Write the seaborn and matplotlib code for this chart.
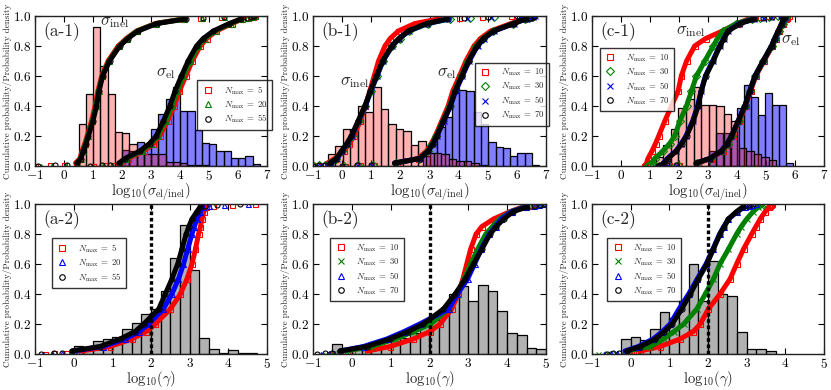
import numpy as np
import pandas as pd
import matplotlib
matplotlib.use("Agg")
import matplotlib.pyplot as plt
from matplotlib.lines import Line2D
import seaborn as sns

# ---------------- data ----------------
# cumulative probability levels at which curve x-positions were read
Q = [0.0, 0.005, 0.01, 0.02, 0.05, 0.1, 0.15, 0.2, 0.3, 0.4, 0.5, 0.6, 0.7,
     0.8, 0.85, 0.9, 0.95, 0.98, 0.99, 0.995, 1.0]

# (a-1) log10(sigma) cumulative curves
a1_inel_n5 = [-1.0, -0.5, 0.0, 0.4, 0.55, 0.62, 0.72, 0.8, 0.95, 1.07, 1.17, 1.3, 1.52, 1.87, 2.15, 2.5, 3.15, 4.1, 4.7, 5.4, 6.4]
a1_inel_n20 = [-0.8, -0.4, 0.05, 0.45, 0.57, 0.65, 0.74, 0.82, 0.98, 1.1, 1.19, 1.32, 1.55, 1.9, 2.18, 2.52, 3.18, 4.15, 4.75, 5.5, 6.6]
a1_inel_n55 = [-0.9, -0.3, 0.1, 0.45, 0.58, 0.67, 0.76, 0.84, 1.0, 1.12, 1.21, 1.33, 1.57, 1.92, 2.2, 2.55, 3.2, 4.2, 4.8, 5.5, 6.5]
a1_el_n5 = [1.0, 1.4, 1.7, 2.0, 2.2, 2.75, 3.08, 3.3, 3.57, 3.8, 3.98, 4.2, 4.42, 4.7, 4.92, 5.25, 5.8, 6.15, 6.35, 6.5, 6.6]
a1_el_n20 = [0.95, 1.35, 1.65, 1.95, 2.15, 2.68, 3.0, 3.23, 3.5, 3.72, 3.9, 4.12, 4.35, 4.63, 4.86, 5.2, 5.75, 6.12, 6.32, 6.48, 6.58]
a1_el_n55 = [0.9, 1.3, 1.6, 1.9, 2.1, 2.62, 2.95, 3.18, 3.43, 3.65, 3.83, 4.05, 4.28, 4.57, 4.8, 5.15, 5.7, 6.1, 6.3, 6.45, 6.55]

# (b-1)
b1_inel_n10 = [-1.0, -0.85, -0.7, -0.5, -0.25, 0.05, 0.25, 0.4, 0.62, 0.8, 0.95, 1.1, 1.25, 1.47, 1.65, 1.93, 2.5, 3.3, 4.0, 4.8, 5.8]
b1_inel_n30 = [-0.95, -0.8, -0.6, -0.4, -0.2, 0.0, 0.18, 0.34, 0.57, 0.8, 0.99, 1.2, 1.4, 1.72, 1.97, 2.3, 2.95, 3.7, 4.4, 5.2, 6.2]
b1_inel_n50 = [-0.9, -0.75, -0.55, -0.38, -0.18, 0.0, 0.17, 0.33, 0.56, 0.79, 0.98, 1.19, 1.4, 1.71, 1.96, 2.28, 2.92, 3.65, 4.3, 5.1, 6.1]
b1_inel_n70 = [-1.0, -0.8, -0.6, -0.4, -0.2, -0.02, 0.16, 0.32, 0.55, 0.78, 0.97, 1.18, 1.39, 1.7, 1.95, 2.27, 2.9, 3.6, 4.2, 5.0, 6.0]
b1_el_n10 = [0.1, 0.6, 1.1, 1.9, 2.6, 2.9, 3.06, 3.2, 3.42, 3.64, 3.8, 4.03, 4.25, 4.53, 4.75, 5.1, 5.8, 6.25, 6.4, 6.5, 6.55]
b1_el_n30 = [0.05, 0.55, 1.05, 1.85, 2.65, 2.94, 3.1, 3.23, 3.46, 3.69, 3.86, 4.09, 4.32, 4.61, 4.83, 5.18, 5.87, 6.28, 6.43, 6.53, 6.6]
b1_el_n50 = [0.0, 0.5, 1.0, 1.8, 2.67, 2.96, 3.12, 3.25, 3.49, 3.72, 3.9, 4.13, 4.36, 4.65, 4.87, 5.22, 5.9, 6.3, 6.45, 6.55, 6.62]
b1_el_n70 = [0.0, 0.5, 1.0, 1.8, 2.67, 2.96, 3.12, 3.25, 3.48, 3.71, 3.88, 4.11, 4.34, 4.63, 4.85, 5.2, 5.89, 6.3, 6.45, 6.55, 6.6]

# (c-1)
c1_inel_n10 = [0.8, 0.82, 0.84, 0.88, 0.93, 1.07, 1.19, 1.3, 1.51, 1.74, 1.97, 2.08, 2.26, 2.54, 2.92, 3.5, 4.0, 4.4, 4.6, 4.8, 5.0]
c1_inel_n30 = [0.9, 0.95, 1.0, 1.08, 1.16, 1.45, 1.68, 1.85, 2.03, 2.26, 2.43, 2.6, 2.89, 3.18, 3.33, 3.52, 3.98, 4.5, 4.8, 5.1, 5.4]
c1_inel_n50 = [1.25, 1.3, 1.36, 1.46, 1.6, 1.89, 2.08, 2.24, 2.47, 2.64, 2.76, 2.91, 3.16, 3.4, 3.54, 3.69, 4.08, 4.58, 4.88, 5.18, 5.48]
c1_inel_n70 = [1.28, 1.33, 1.38, 1.48, 1.62, 1.91, 2.1, 2.26, 2.49, 2.66, 2.77, 2.92, 3.18, 3.41, 3.55, 3.7, 4.1, 4.6, 4.9, 5.2, 5.5]
c1_el_n10 = [1.35, 1.65, 2.0, 2.65, 3.1, 3.5, 3.7, 3.85, 4.08, 4.3, 4.47, 4.65, 4.93, 5.22, 5.34, 5.46, 5.6, 5.68, 5.71, 5.74, 5.78]
c1_el_n30 = [1.3, 1.62, 1.95, 2.62, 3.08, 3.48, 3.68, 3.83, 4.06, 4.28, 4.45, 4.63, 4.91, 5.2, 5.32, 5.44, 5.57, 5.64, 5.67, 5.7, 5.72]
c1_el_n50 = [1.28, 1.58, 1.9, 2.6, 3.06, 3.46, 3.66, 3.81, 4.04, 4.27, 4.44, 4.62, 4.9, 5.19, 5.3, 5.42, 5.54, 5.6, 5.62, 5.64, 5.66]
c1_el_n70 = [1.3, 1.6, 1.9, 2.6, 3.06, 3.46, 3.66, 3.81, 4.04, 4.27, 4.44, 4.62, 4.9, 5.19, 5.3, 5.42, 5.54, 5.6, 5.62, 5.64, 5.66]

# (a-2) log10(gamma)
a2_n5 = [-0.75, -0.5, -0.2, 0.2, 0.94, 1.5, 1.88, 2.11, 2.5, 2.76, 2.93, 3.06, 3.15, 3.23, 3.28, 3.32, 3.37, 3.42, 3.6, 4.1, 4.7]
a2_n20 = [-0.8, -0.55, -0.3, 0.0, 0.75, 1.33, 1.7, 1.94, 2.32, 2.54, 2.71, 2.84, 2.95, 3.06, 3.12, 3.19, 3.27, 3.34, 3.5, 3.9, 4.5]
a2_n55 = [-0.85, -0.5, -0.3, -0.05, 0.68, 1.2, 1.59, 1.81, 2.2, 2.37, 2.54, 2.69, 2.8, 2.91, 2.98, 3.06, 3.19, 3.27, 3.4, 3.7, 4.3]
# (b-2)
b2_n10 = [-0.6, -0.3, 0.0, 0.4, 0.98, 1.58, 2.01, 2.27, 2.57, 2.74, 2.86, 2.96, 3.06, 3.2, 3.35, 3.65, 4.08, 4.4, 4.55, 4.62, 4.68]
b2_n30 = [-0.7, -0.5, -0.35, -0.15, 0.5, 1.12, 1.6, 2.03, 2.49, 2.72, 2.89, 3.06, 3.24, 3.45, 3.62, 3.8, 4.1, 4.45, 4.65, 4.8, 4.9]
b2_n50 = [-0.8, -0.6, -0.45, -0.3, 0.3, 0.9, 1.35, 1.75, 2.49, 2.72, 2.98, 3.16, 3.33, 3.54, 3.7, 3.85, 4.12, 4.48, 4.68, 4.82, 4.92]
b2_n70 = [-0.9, -0.7, -0.5, -0.31, 0.38, 0.98, 1.45, 1.84, 2.36, 2.66, 2.92, 3.13, 3.35, 3.56, 3.72, 3.91, 4.16, 4.51, 4.7, 4.85, 4.94]
# (c-2)
c2_n10 = [-0.05, 0.05, 0.15, 0.25, 0.76, 1.28, 1.62, 1.8, 2.01, 2.31, 2.57, 2.74, 2.92, 3.13, 3.24, 3.35, 3.48, 3.57, 3.6, 3.62, 3.65]
c2_n30 = [-0.85, -0.6, -0.4, -0.1, 0.51, 0.85, 1.12, 1.37, 1.71, 1.93, 2.14, 2.31, 2.53, 2.74, 2.86, 3.0, 3.17, 3.3, 3.36, 3.4, 3.43]
c2_n50 = [-0.7, -0.5, -0.35, -0.15, 0.2, 0.58, 0.82, 1.02, 1.25, 1.5, 1.72, 1.95, 2.13, 2.3, 2.41, 2.53, 2.76, 2.95, 3.05, 3.15, 3.25]
c2_n70 = [-0.6, -0.45, -0.3, -0.1, 0.25, 0.64, 0.87, 1.07, 1.32, 1.54, 1.75, 1.97, 2.14, 2.31, 2.42, 2.53, 2.74, 2.9, 3.0, 3.08, 3.17]

# histograms: first bin edge, bin width, bar heights (probability density)
a1_inel_start, a1_inel_w = 0.5, 0.25
a1_inel_hist = [0.28, 0.48, 0.93, 0.67, 0.48, 0.23, 0.22, 0.15, 0.10, 0.08, 0.08, 0.08, 0.03, 0.03, 0.02, 0.01, 0.01, 0.005]
a1_el_start, a1_el_w = 2.0, 0.25
a1_el_hist = [0.11, 0.10, 0.16, 0.15, 0.25, 0.35, 0.45, 0.53, 0.365, 0.37, 0.24, 0.155, 0.15, 0.10, 0.10, 0.053, 0.053, 0.07, 0.015]

b1_inel_start, b1_inel_w = -0.5, 0.26
b1_inel_hist = [0.08, 0.135, 0.245, 0.25, 0.40, 0.36, 0.53, 0.38, 0.28, 0.245, 0.235, 0.14, 0.17, 0.09, 0.09, 0.08, 0.05, 0.035, 0.035, 0.02, 0.01]
b1_el_start, b1_el_w = 2.77, 0.25
b1_el_hist = [0.07, 0.17, 0.26, 0.33, 0.52, 0.51, 0.50, 0.36, 0.28, 0.16, 0.13, 0.12, 0.07, 0.09, 0.09, 0.01]

c1_inel_start, c1_inel_w = 1.2, 0.26
c1_inel_hist = [0.06, 0.14, 0.25, 0.385, 0.45, 0.53, 0.41, 0.41, 0.40, 0.35, 0.30, 0.12, 0.10, 0.08, 0.06, 0.04]
c1_el_start, c1_el_w = 3.04, 0.24
c1_el_hist = [0.10, 0.22, 0.22, 0.21, 0.39, 0.54, 0.46, 0.34, 0.49, 0.41, 0.41, 0.02]

a2_start, a2_w = 0.0, 0.25
a2_hist = [0.055, 0.04, 0.09, 0.10, 0.115, 0.17, 0.21, 0.27, 0.30, 0.42, 0.64, 0.86, 0.56, 0.105, 0.033, 0.01, 0.025, 0.01, 0.01]
b2_start, b2_w = -0.5, 0.25
b2_hist = [0.067, 0.02, 0.03, 0.03, 0.04, 0.05, 0.11, 0.105, 0.14, 0.19, 0.23, 0.30, 0.40, 0.455, 0.355, 0.46, 0.42, 0.29, 0.14, 0.125, 0.04, 0.035]
c2_start, c2_w = -0.25, 0.25
c2_hist = [0.10, 0.115, 0.095, 0.165, 0.28, 0.24, 0.36, 0.60, 0.355, 0.62, 0.40, 0.39, 0.15, 0.033, 0.033, 0.02]

x_ticks_top = [-1, 0, 1, 2, 3, 4, 5, 6, 7]
x_ticks_bot = [-1, 0, 1, 2, 3, 4, 5]
y_ticks = [0.0, 0.2, 0.4, 0.6, 0.8, 1.0]
gamma_cut = 2

# ---------------- style ----------------
sns.set_style("ticks")
plt.rcParams.update({
    "font.family": ["cmr10", "DejaVu Serif"],
    "mathtext.fontset": "cm",
    "axes.unicode_minus": False,
    "axes.formatter.use_mathtext": True,
    "xtick.direction": "in", "ytick.direction": "in",
    "xtick.top": True, "ytick.right": True,
    "xtick.major.size": 4, "ytick.major.size": 4,
    "xtick.major.width": 0.8, "ytick.major.width": 0.8,
    "xtick.color": "k", "ytick.color": "k",
    "axes.edgecolor": "#222222", "axes.linewidth": 1.0,
    "axes.facecolor": "white", "figure.facecolor": "white",
})

RED, GREEN, BLUE, BLACK = "#ff0000", "#008000", "#0000ff", "#000000"

fig = plt.figure(figsize=(8.31, 3.90), dpi=100)
lefts = [35 / 831, 313 / 831, 592 / 831]
widths = [232 / 831, 233 / 831, 232 / 831]
bottoms = [1 - 166 / 390, 1 - 354 / 390]
h = 150 / 390
axes = [[fig.add_axes([lefts[c], bottoms[r], widths[c], h]) for c in range(3)] for r in range(2)]


def hist(ax, start, w, heights, color, alpha):
    heights = np.asarray(heights, float)
    n = len(heights)
    centers = start + w * (np.arange(n) + 0.5)
    df = pd.DataFrame({"x": centers, "w": heights})
    sns.histplot(data=df, x="x", weights="w", binwidth=w, binrange=(start, start + n * w),
                 ax=ax, color=color, alpha=alpha, edgecolor="k", linewidth=0.9,
                 stat="count", zorder=1)


def cdf(ax, xs, color, marker, z):
    xs = np.asarray(xs, float)
    qs = np.asarray(Q, float)
    core = (qs >= 0.02) & (qs <= 0.98)
    df = pd.DataFrame({"x": xs[core], "q": qs[core]})
    sns.lineplot(data=df, x="x", y="q", ax=ax, color=color, lw=3.6, sort=False,
                 estimator=None, zorder=z)
    ax.plot(xs, qs, ls="none", marker=marker, mfc="none", mec=color, ms=3.6,
            mew=0.8, zorder=z + 0.1)


def legend(ax, entries, anchor):
    handles = [Line2D([], [], ls="none", marker=m, mfc="none", mec=c, ms=4, mew=0.8)
               for c, m, _ in entries]
    labels = [r"$N_{\rm max}\;=\;%d$" % n for _, _, n in entries]
    leg = ax.legend(handles, labels, loc="upper left", bbox_to_anchor=anchor,
                    fontsize=6.3, frameon=True, fancybox=False, edgecolor="k",
                    numpoints=1, handlelength=1.4, handletextpad=1.1,
                    labelspacing=0.28, borderpad=0.5, borderaxespad=0)
    leg.get_frame().set_linewidth(1.0)
    leg.set_zorder(20)


def finish(ax, xt, xlabel, tag):
    ax.set_xlim(xt[0], xt[-1])
    ax.set_ylim(0, 1)
    ax.set_xticks(xt)
    ax.set_xticklabels(["$%d$" % v for v in xt], fontsize=9.5)
    ax.set_yticks(y_ticks)
    ax.set_yticklabels(["$%.1f$" % v for v in y_ticks], fontsize=9.5)
    ax.tick_params(axis="y", pad=2.5)
    ax.tick_params(axis="x", pad=2.5)
    ax.set_xlabel(xlabel, fontsize=10.5, labelpad=-1.5)
    ax.set_ylabel("Cumulative probability/Probability density", fontsize=6.6, labelpad=1)
    ax.text(0.035, 0.955, tag, transform=ax.transAxes, ha="left", va="top",
            fontsize=12.5, zorder=25)
    for s in ax.spines.values():
        s.set_zorder(30)


sig_label = r"$\mathrm{log}_{10}(\sigma_{\rm el/inel})$"
gam_label = r"$\mathrm{log}_{10}(\gamma)$"

# ----- (a-1)
ax = axes[0][0]
hist(ax, a1_el_start, a1_el_w, a1_el_hist, BLUE, 0.5)
hist(ax, a1_inel_start, a1_inel_w, a1_inel_hist, RED, 0.3)
for xs, c, m, z in [(a1_inel_n5, RED, "s", 3), (a1_inel_n20, GREEN, "^", 4), (a1_inel_n55, BLACK, "o", 5),
                    (a1_el_n5, RED, "s", 3), (a1_el_n20, GREEN, "^", 4), (a1_el_n55, BLACK, "o", 5)]:
    cdf(ax, xs, c, m, z)
ax.text(1.75, 0.955, r"$\sigma_{\rm inel}$", fontsize=12, ha="center", va="center", zorder=21)
ax.text(3.5, 0.615, r"$\sigma_{\rm el}$", fontsize=12, ha="center", va="center", zorder=21)
legend(ax, [(RED, "s", 5), (GREEN, "^", 20), (BLACK, "o", 55)], (0.70, 0.575))
finish(ax, x_ticks_top, sig_label, "(a-1)")

# ----- (b-1)
ax = axes[0][1]
hist(ax, b1_el_start, b1_el_w, b1_el_hist, BLUE, 0.5)
hist(ax, b1_inel_start, b1_inel_w, b1_inel_hist, RED, 0.3)
for xs, c, m, z in [(b1_inel_n10, RED, "s", 3), (b1_inel_n30, GREEN, "D", 4), (b1_inel_n50, BLUE, "x", 5),
                    (b1_inel_n70, BLACK, "o", 6),
                    (b1_el_n10, RED, "s", 3), (b1_el_n30, GREEN, "D", 4), (b1_el_n50, BLUE, "x", 5),
                    (b1_el_n70, BLACK, "o", 6)]:
    cdf(ax, xs, c, m, z)
ax.text(0.42, 0.555, r"$\sigma_{\rm inel}$", fontsize=12, ha="center", va="center", zorder=21)
ax.text(3.6, 0.615, r"$\sigma_{\rm el}$", fontsize=12, ha="center", va="center", zorder=21)
legend(ax, [(RED, "s", 10), (GREEN, "D", 30), (BLUE, "x", 50), (BLACK, "o", 70)], (0.695, 0.69))
finish(ax, x_ticks_top, sig_label, "(b-1)")

# ----- (c-1)
ax = axes[0][2]
hist(ax, c1_el_start, c1_el_w, c1_el_hist, BLUE, 0.5)
hist(ax, c1_inel_start, c1_inel_w, c1_inel_hist, RED, 0.3)
for xs, c, m, z in [(c1_inel_n10, RED, "s", 3), (c1_inel_n30, GREEN, "D", 4), (c1_inel_n50, BLUE, "x", 5),
                    (c1_inel_n70, BLACK, "o", 6),
                    (c1_el_n10, RED, "s", 3), (c1_el_n30, GREEN, "D", 4), (c1_el_n50, BLUE, "x", 5),
                    (c1_el_n70, BLACK, "o", 6)]:
    cdf(ax, xs, c, m, z)
ax.text(2.4, 0.895, r"$\sigma_{\rm inel}$", fontsize=12, ha="center", va="center", zorder=21)
ax.text(5.87, 0.84, r"$\sigma_{\rm el}$", fontsize=12, ha="center", va="center", zorder=21)
legend(ax, [(RED, "s", 10), (GREEN, "D", 30), (BLUE, "x", 50), (BLACK, "o", 70)], (0.034, 0.787))
finish(ax, x_ticks_top, sig_label, "(c-1)")

# ----- (a-2)
ax = axes[1][0]
hist(ax, a2_start, a2_w, a2_hist, "gray", 0.6)
for xs, c, m, z in [(a2_n5, RED, "s", 3), (a2_n20, BLUE, "^", 4), (a2_n55, BLACK, "o", 5)]:
    cdf(ax, xs, c, m, z)
ax.axvline(gamma_cut, color="k", lw=2.4, ls=(0, (1.1, 0.8)), zorder=10)
legend(ax, [(RED, "s", 5), (BLUE, "^", 20), (BLACK, "o", 55)], (0.073, 0.773))
finish(ax, x_ticks_bot, gam_label, "(a-2)")

# ----- (b-2)
ax = axes[1][1]
hist(ax, b2_start, b2_w, b2_hist, "gray", 0.6)
for xs, c, m, z in [(b2_n10, RED, "s", 3), (b2_n30, GREEN, "x", 4), (b2_n50, BLUE, "^", 5), (b2_n70, BLACK, "o", 6)]:
    cdf(ax, xs, c, m, z)
ax.axvline(gamma_cut, color="k", lw=2.4, ls=(0, (1.1, 0.8)), zorder=10)
legend(ax, [(RED, "s", 10), (GREEN, "x", 30), (BLUE, "^", 50), (BLACK, "o", 70)], (0.073, 0.773))
finish(ax, x_ticks_bot, gam_label, "(b-2)")

# ----- (c-2)
ax = axes[1][2]
hist(ax, c2_start, c2_w, c2_hist, "gray", 0.6)
for xs, c, m, z in [(c2_n10, RED, "s", 3), (c2_n30, GREEN, "x", 4), (c2_n50, BLUE, "^", 5), (c2_n70, BLACK, "o", 6)]:
    cdf(ax, xs, c, m, z)
ax.axvline(gamma_cut, color="k", lw=2.4, ls=(0, (1.1, 0.8)), zorder=10)
legend(ax, [(RED, "s", 10), (GREEN, "x", 30), (BLUE, "^", 50), (BLACK, "o", 70)], (0.065, 0.773))
finish(ax, x_ticks_bot, gam_label, "(c-2)")

fig.savefig("out.png", dpi=100)
